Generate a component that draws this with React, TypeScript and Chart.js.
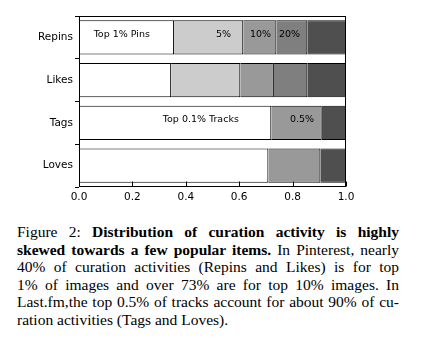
import React, { useEffect, useRef } from "react";
import { Chart, registerables } from "chart.js";

Chart.register(...registerables);

const categories = ["Repins", "Likes", "Tags", "Loves"];
const segTop = [0.356, 0.345, 0.72, 0.709];
const segLight = [0.259, 0.259, null, null];
const segMid = [0.124, 0.126, 0.189, 0.195];
const segDim = [0.116, 0.125, null, null];
const segDark = [0.145, 0.145, 0.091, 0.096];
const segColors = ["#ffffff", "#cccccc", "#999999", "#7f7f7f", "#4f4f4f"];
const xTicks = [0, 0.2, 0.4, 0.6, 0.8, 1.0];

const noteTexts = ["Top 1% Pins", "5%", "10%", "20%", "Top 0.1% Tracks", "0.5%"];
const noteX = [0.055, 0.513, 0.64, 0.749, 0.314, 0.79];
const noteCat = ["Repins", "Repins", "Repins", "Repins", "Tags", "Tags"];

const framePlugin = {
  id: "frame",
  afterDatasetsDraw(chart: any) {
    const { ctx, chartArea } = chart;
    const l = Math.round(chartArea.left) + 0.5;
    const t = Math.round(chartArea.top) + 0.5;
    const r = Math.round(chartArea.right) - 0.5;
    const b = Math.round(chartArea.bottom) - 0.5;
    ctx.save();
    ctx.strokeStyle = "#000";
    ctx.lineWidth = 1;
    ctx.strokeRect(l, t, r - l, b - t);
    const xs = chart.scales.x;
    for (const v of xTicks) {
      const px = Math.round(xs.getPixelForValue(v)) + 0.5;
      ctx.beginPath();
      ctx.moveTo(px, b);
      ctx.lineTo(px, b - 5);
      ctx.stroke();
    }
    const ys = chart.scales.y;
    ctx.fillStyle = "#000";
    ctx.font = "9.5px 'DejaVu Sans'";
    ctx.textBaseline = "middle";
    ctx.textAlign = "left";
    noteTexts.forEach((txt, i) => {
      const px = xs.getPixelForValue(noteX[i]);
      const py = ys.getPixelForValue(categories.indexOf(noteCat[i])) - 3;
      ctx.fillText(txt, px, py);
    });
    ctx.restore();
  },
};

function ChartBox() {
  const ref = useRef<HTMLCanvasElement>(null);
  useEffect(() => {
    document.body.style.margin = "0";
    const font = { family: "'DejaVu Sans'", size: 10.5 };
    const series = [segTop, segLight, segMid, segDim, segDark];
    const chart = new Chart(ref.current!, {
      type: "bar",
      data: {
        labels: categories,
        datasets: series.map((d, i) => ({
          data: d as any,
          backgroundColor: segColors[i],
          borderColor: "#000",
          borderWidth: { left: 0, right: 1, top: 1, bottom: 1 },
          borderSkipped: false,
          barPercentage: 0.8,
          categoryPercentage: 1,
        })),
      },
      options: {
        indexAxis: "y",
        responsive: false,
        animation: false,
        events: [],
        layout: { padding: { left: 0, top: 16, right: 78, bottom: 0 } },
        plugins: { legend: { display: false }, tooltip: { enabled: false } },
        scales: {
          x: {
            type: "linear",
            stacked: true,
            min: 0,
            max: 1,
            afterBuildTicks: (s: any) => {
              s.ticks = xTicks.map((v) => ({ value: v }));
            },
            afterFit: (s: any) => {
              s.height = 18;
            },
            ticks: {
              color: "#000",
              font,
              padding: 4,
              callback: (v: any) => Number(v).toFixed(1),
            },
            grid: { display: false, drawTicks: false },
            border: { display: false },
          },
          y: {
            type: "category",
            stacked: true,
            afterFit: (s: any) => {
              s.width = 79;
            },
            ticks: { color: "#000", font, padding: 2 },
            grid: {
              drawOnChartArea: false,
              drawTicks: true,
              tickLength: 4,
              color: "#000",
            },
            border: { display: false },
          },
        },
      },
      plugins: [framePlugin],
    });
    return () => chart.destroy();
  }, []);
  return (
    <canvas
      ref={ref}
      width={424}
      height={205}
      style={{ position: "absolute", left: 0, top: 0, width: 424, height: 205 }}
    />
  );
}

const captionLines: { parts: [string, boolean][]; last?: boolean }[] = [
  { parts: [["Figure 2: ", false], ["Distribution of curation activity is highly", true]] },
  { parts: [["skewed towards a few popular items.", true], [" In Pinterest, nearly", false]] },
  { parts: [["40% of curation activities (Repins and Likes) is for top", false]] },
  { parts: [["1% of images and over 73% are for top 10% images. In", false]] },
  { parts: [["Last.fm,the top 0.5% of tracks account for about 90% of cu-", false]] },
  { parts: [["ration activities (Tags and Loves).", false]], last: true },
];

export default function App() {
  return (
    <div style={{ position: "relative", width: 424, height: 341, background: "#fff", overflow: "hidden" }}>
      <ChartBox />
      <div
        style={{
          position: "absolute",
          left: 17,
          top: 223,
          width: 382,
          fontFamily: "'Liberation Serif', 'Times New Roman', serif",
          fontSize: 15.5,
          lineHeight: "17.6px",
          color: "#000",
        }}
      >
        {captionLines.map((ln, i) => (
          <div
            key={i}
            style={{
              textAlign: "justify",
              textAlignLast: ln.last ? "left" : "justify",
              whiteSpace: "nowrap",
              height: 17.6,
            }}
          >
            {ln.parts.map(([t, b], j) => (
              <span key={j} style={{ fontWeight: b ? "bold" : "normal" }}>
                {t}
              </span>
            ))}
          </div>
        ))}
      </div>
    </div>
  );
}
